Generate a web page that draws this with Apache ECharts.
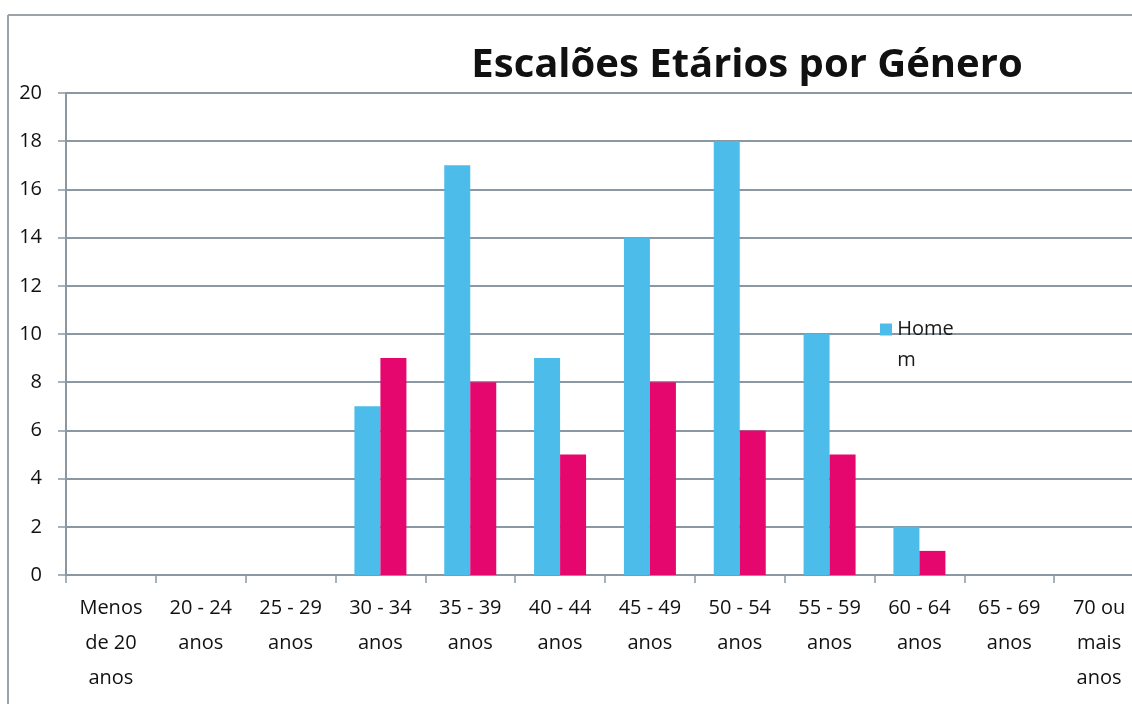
<!DOCTYPE html>
<html>
<head>
<meta charset="utf-8">
<script src="https://cdn.jsdelivr.net/npm/echarts@6/dist/echarts.min.js"></script>
<style>
  html, body { margin: 0; padding: 0; background: #fff; }
  #root { width: 1132px; height: 704px; }
</style>
</head>
<body>
<div id="root"></div>
<script>
// age bands (wrapped the way the source chart wraps them)
const categories = ['Menos\nde 20\nanos', '20 - 24\nanos', '25 - 29\nanos', '30 - 34\nanos', '35 - 39\nanos',
  '40 - 44\nanos', '45 - 49\nanos', '50 - 54\nanos', '55 - 59\nanos', '60 - 64\nanos', '65 - 69\nanos', '70 ou\nmais\nanos']
const homem = [0, 0, 0, 7, 17, 9, 14, 18, 10, 2, 0, 0]
const mulher = [0, 0, 0, 9, 8, 5, 8, 6, 5, 1, 0, 0]
const yTicks = [0, 2, 4, 6, 8, 10, 12, 14, 16, 18, 20]

const chart = echarts.init(document.getElementById('root'))
const font = 'Open Sans'
const blue = '#4cbcea'
const pink = '#e5066e'

const option = {
  animation: false,
  backgroundColor: '#fff',
  textStyle: { fontFamily: font },
  title: {
    text: 'Escalões Etários por Género',
    left: 742, top: 41,
    textAlign: 'center',
    textStyle: { fontFamily: font, fontWeight: 'bold', fontSize: 40, color: '#111' }
  },
  // only the first entry is visible in the source, wrapped as "Home / m"
  legend: {
    data: ['Homem'],
    left: 870, top: 309,
    icon: 'none',
    itemWidth: 0,
    formatter: () => '{sq|} Home\n{sp|} m',
    textStyle: {
      fontSize: 20, color: '#1a1a1a', lineHeight: 31,
      rich: {
        sq: { width: 12, height: 12, backgroundColor: blue },
        sp: { width: 12, height: 12 }
      }
    }
  },
  graphic: [
    { type: 'line', shape: { x1: 8, y1: 15, x2: 1132, y2: 15 }, style: { stroke: '#9aa3aa', lineWidth: 2 } },
    { type: 'line', shape: { x1: 8, y1: 15, x2: 8, y2: 704 }, style: { stroke: '#9aa3aa', lineWidth: 2 } }
  ],
  grid: { left: 66, top: 93, width: 1078, bottom: 129, outerBoundsMode: 'none' },
  xAxis: {
    type: 'category',
    data: categories,
    axisLine: { lineStyle: { color: '#8a98a3', width: 2 } },
    axisTick: { show: true, length: 8, lineStyle: { color: '#8a98a3', width: 1.5 } },
    axisLabel: { fontSize: 20, color: '#111', lineHeight: 35, margin: 16, interval: 0 }
  },
  yAxis: {
    type: 'value',
    min: yTicks[0], max: yTicks[yTicks.length - 1], interval: 2,
    axisLine: { show: true, lineStyle: { color: '#8a98a3', width: 2 } },
    axisTick: { show: true, length: 8, lineStyle: { color: '#8a98a3', width: 1.5 } },
    splitLine: { lineStyle: { color: '#8a98a3', width: 2 } },
    axisLabel: { fontSize: 20, color: '#111', margin: 24 }
  },
  series: [
    { name: 'Homem', type: 'bar', data: homem, barWidth: 26, barGap: '0%',
      itemStyle: { color: blue } },
    { name: 'Mulher', type: 'bar', data: mulher, barWidth: 26, barGap: '0%',
      itemStyle: { color: pink } }
  ]
}
chart.setOption(option)
</script>
</body>
</html>
